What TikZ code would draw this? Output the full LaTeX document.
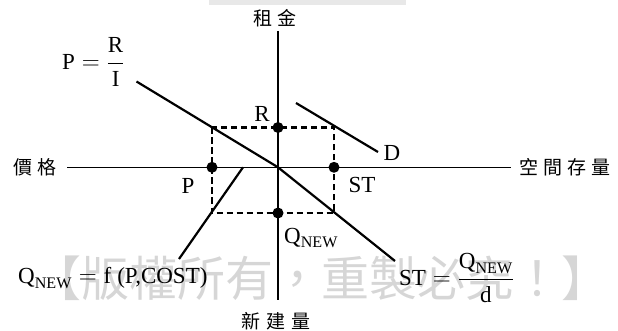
\documentclass[tikz,border=0pt]{standalone}
\usepackage{amsmath}
\usepackage{fontspec}
\setmainfont{Liberation Serif}
\newfontfamily\cjk{Noto Sans CJK TC}
\begin{document}
\begin{tikzpicture}[x=1pt,y=-1pt,
  axisline/.style={line width=1.1pt},
  curveline/.style={line width=2.2pt},
  dashbox/.style={line width=2.2pt, dash pattern=on 6.5pt off 3.5pt},
  dotnode/.style={circle, fill=black, inner sep=0pt, minimum size=11pt},
  lbl/.style={font=\fontsize{23}{25}\selectfont, inner sep=0pt},
  cjklbl/.style={font=\cjk\fontsize{19}{20}\selectfont, inner sep=0pt},
  watermark/.style={font=\cjk\fontsize{48}{50}\selectfont, text=black!16, inner sep=0pt}
]
\useasboundingbox (0,0) rectangle (618,331);
\fill[black!9] (209,0) rectangle (406,5);
% watermark
\node[watermark] (wm) at (321,278) {【版權所有，重製必究！】};
% axes
\coordinate (O) at (278,167.3);
\coordinate (vtop) at (278,31);
\coordinate (vbot) at (278,300);
\coordinate (hleft) at (67,167.3);
\coordinate (hright) at (511,167.3);
\draw[axisline] (vtop) -- (vbot);
\draw[axisline] (hleft) -- (hright);
\node[cjklbl] (rent) at (275,18) {租\hspace{6pt}金};
\node[cjklbl] (price) at (35,167) {價\hspace{6pt}格};
\node[cjklbl] (stock) at (565,167) {空\hspace{5pt}間\hspace{5pt}存\hspace{5pt}量};
\node[cjklbl] (newc) at (276,321) {新\hspace{6pt}建\hspace{6pt}量};
% dashed box
\coordinate (c1) at (212,127.5);
\coordinate (c3) at (334,213);
\draw[dashbox] (c1) rectangle (c3);
% curves
\coordinate (nwA) at (136.5,81.5);
\coordinate (seB) at (395,261);
\coordinate (dA) at (296,103);
\coordinate (dB) at (378,152);
\coordinate (qA) at (243,167.3);
\coordinate (qB) at (179,259);
\draw[curveline] (nwA) -- (O);
\draw[curveline] (O) -- (seB);
\draw[curveline] (dA) -- (dB);
\draw[curveline] (qA) -- (qB);
% dots
\node[dotnode] (dR) at (278,127.5) {};
\node[dotnode] (dP) at (212,167.3) {};
\node[dotnode] (dST) at (334,167.3) {};
\node[dotnode] (dQ) at (278,213) {};
% labels
\node[lbl] (lR) at (262,114) {R};
\node[lbl] (lP) at (188,186) {P};
\node[lbl] (lST) at (362,185) {ST};
\node[lbl, anchor=west] (lQ) at (284,238) {$\text{Q}_{\text{NEW}}$};
\node[lbl] (lD) at (392,153) {D};
\node[lbl, anchor=west] (eqP) at (62,62) {$\text{P}=\dfrac{\text{R}}{\text{I}}$};
\node[lbl, anchor=west] (eqQ) at (18,278) {$\text{Q}_{\text{NEW}}=\text{f\hspace{6pt}(P,COST)}$};
\node[lbl, anchor=west] (eqST) at (399,278) {$\text{ST}=\dfrac{\text{Q}_{\text{NEW}}}{\text{d}}$};
\end{tikzpicture}
\end{document}
